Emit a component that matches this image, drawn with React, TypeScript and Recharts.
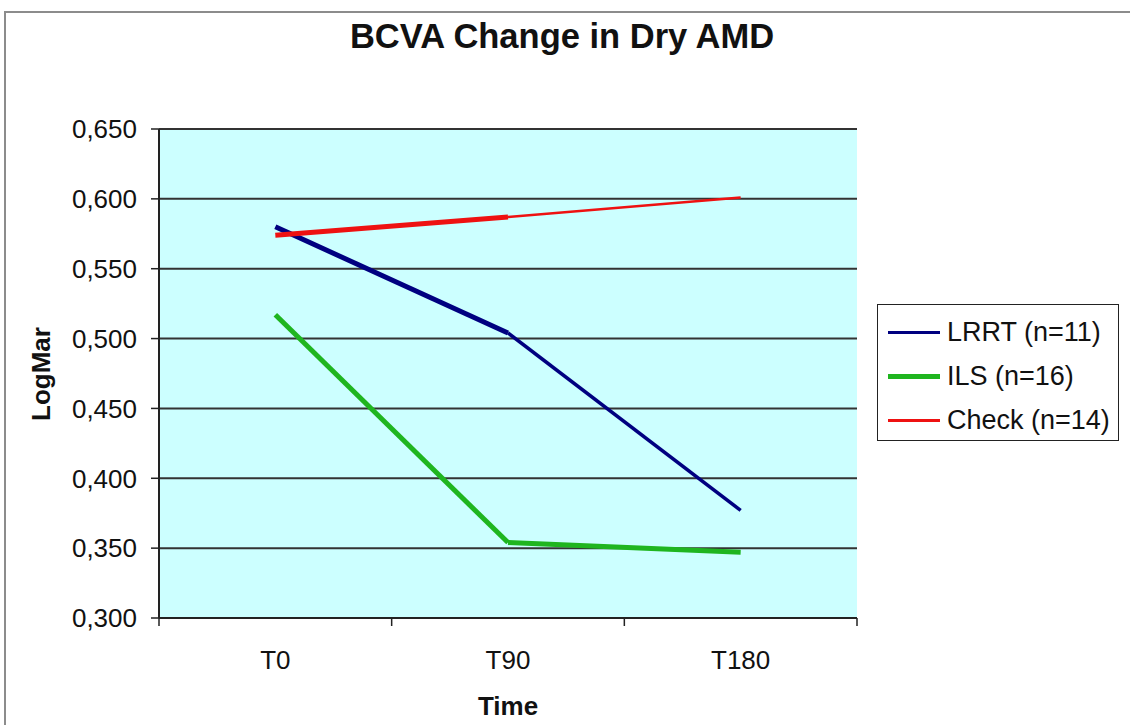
import React from "react";
import {
  LineChart,
  Line,
  XAxis,
  YAxis,
  CartesianGrid,
} from "recharts";

// categories + values
const times = ["T0", "T90", "T180"];
const lrrt = [0.58, 0.504, 0.377];
const ils = [0.517, 0.354, 0.347];
const check = [0.574, 0.587, 0.601];
const yTicks = [0.3, 0.35, 0.4, 0.45, 0.5, 0.55, 0.6, 0.65];

const seriesInfo = [
  { name: "LRRT (n=11)", color: "#000080", legendWidth: 3 },
  { name: "ILS (n=16)", color: "#1fb51f", legendWidth: 5 },
  { name: "Check (n=14)", color: "#ee1111", legendWidth: 3 },
];

// Excel drew each segment with its own thickness, so split first / second segment
const firstSeg = (arr: number[], i: number) => (i <= 1 ? arr[i] : null);
const secondSeg = (arr: number[], i: number) => (i >= 1 ? arr[i] : null);

const data = times.map((t, i) => ({
  time: t,
  lrrtA: firstSeg(lrrt, i),
  lrrtB: secondSeg(lrrt, i),
  ilsA: firstSeg(ils, i),
  ilsB: secondSeg(ils, i),
  checkA: firstSeg(check, i),
  checkB: secondSeg(check, i),
}));

const W = 1130;
const H = 725;
const PLOT_LEFT = 159;
const PLOT_RIGHT = 857;
const PLOT_TOP = 129;
const PLOT_BOTTOM = 618;
const HALF_BAND = (PLOT_RIGHT - PLOT_LEFT) / times.length / 2;
const FONT = "'Liberation Sans', Arial, sans-serif";

const XTick = (props: any) => {
  const { x, y, payload, index } = props;
  const last = index === times.length - 1;
  return (
    <g>
      <line x1={x - HALF_BAND} x2={x - HALF_BAND} y1={y - 10} y2={y - 2} stroke="#222" strokeWidth={1.5} />
      {last && (
        <line x1={x + HALF_BAND} x2={x + HALF_BAND} y1={y - 10} y2={y - 2} stroke="#222" strokeWidth={1.5} />
      )}
      <text x={x} y={y + 41} textAnchor="middle" fontSize={26} fill="#111" fontFamily={FONT}>
        {payload.value}
      </text>
    </g>
  );
};

const LegendBox = () => (
  <div
    style={{
      position: "absolute",
      left: 877,
      top: 304,
      width: 242,
      height: 137,
      border: "1.5px solid #222",
      background: "#fff",
      boxSizing: "border-box",
      padding: "5px 0 0 10px",
      fontFamily: FONT,
    }}
  >
    {seriesInfo.map((s) => (
      <div key={s.name} style={{ display: "flex", alignItems: "center", height: 44 }}>
        <div style={{ width: 52, height: s.legendWidth, background: s.color, marginRight: 7 }} />
        <span style={{ fontSize: 27, color: "#111" }}>{s.name}</span>
      </div>
    ))}
  </div>
);

export default function App() {
  return (
    <div
      style={{
        position: "absolute",
        left: 0,
        top: 0,
        width: W,
        height: H,
        overflow: "hidden",
        background: "#fff",
        fontFamily: FONT,
      }}
    >
      {/* outer chart frame */}
      <div
        style={{
          position: "absolute",
          left: 4,
          top: 11,
          width: 1200,
          height: 800,
          border: "2px solid #8c8c8c",
        }}
      />
      <div
        style={{
          position: "absolute",
          left: 0,
          width: W,
          top: 17,
          textAlign: "center",
          fontSize: 34.5,
          fontWeight: "bold",
          color: "#111",
          transform: "translateX(-3px)",
        }}
      >
        BCVA Change in Dry AMD
      </div>
      <div
        style={{
          position: "absolute",
          left: 41,
          top: 374,
          transform: "translate(-50%, -50%) rotate(-90deg)",
          fontSize: 26,
          fontWeight: "bold",
          color: "#111",
        }}
      >
        LogMar
      </div>
      <div
        style={{
          position: "absolute",
          left: 508,
          top: 706,
          transform: "translate(-50%, -50%)",
          fontSize: 26,
          fontWeight: "bold",
          color: "#111",
        }}
      >
        Time
      </div>

      <div style={{ position: "absolute", left: 0, top: 0 }}>
        <LineChart
          width={W}
          height={H}
          data={data}
          margin={{ top: PLOT_TOP, right: W - PLOT_RIGHT, bottom: 0, left: 0 }}
        >
          <CartesianGrid
            vertical={false}
            fill="#ccffff"
            stroke="#333"
            strokeWidth={2}
            fillOpacity={1}
          />
          <XAxis
            dataKey="time"
            height={H - PLOT_BOTTOM}
            padding={{ left: HALF_BAND, right: HALF_BAND }}
            tickLine={false}
            tickSize={8}
            tickMargin={2}
            axisLine={{ stroke: "#222", strokeWidth: 2 }}
            tick={<XTick />}
            interval={0}
          />
          <YAxis
            width={PLOT_LEFT}
            domain={[0.3, 0.65]}
            ticks={yTicks}
            interval={0}
            allowDataOverflow
            tickFormatter={(v: number) => v.toFixed(3).replace(".", ",")}
            tickSize={8}
            tickMargin={14}
            tickLine={{ stroke: "#222", strokeWidth: 1.5 }}
            axisLine={{ stroke: "#222", strokeWidth: 2 }}
            tick={{ fontSize: 26, fill: "#111", fontFamily: FONT }}
          />
          <YAxis
            yAxisId="frame"
            orientation="right"
            width={0}
            tick={false}
            tickLine={false}
            axisLine={{ stroke: "#8c8c8c", strokeWidth: 2 }}
          />
          <Line dataKey="lrrtA" stroke="#000080" strokeWidth={5} dot={false} isAnimationActive={false} />
          <Line dataKey="lrrtB" stroke="#000080" strokeWidth={3.5} dot={false} isAnimationActive={false} />
          <Line dataKey="ilsA" stroke="#1fb51f" strokeWidth={5} dot={false} isAnimationActive={false} />
          <Line dataKey="ilsB" stroke="#1fb51f" strokeWidth={5} dot={false} isAnimationActive={false} />
          <Line dataKey="checkA" stroke="#ee1111" strokeWidth={5} dot={false} isAnimationActive={false} />
          <Line dataKey="checkB" stroke="#ee1111" strokeWidth={2.5} dot={false} isAnimationActive={false} />
        </LineChart>
      </div>
      <LegendBox />
    </div>
  );
}
